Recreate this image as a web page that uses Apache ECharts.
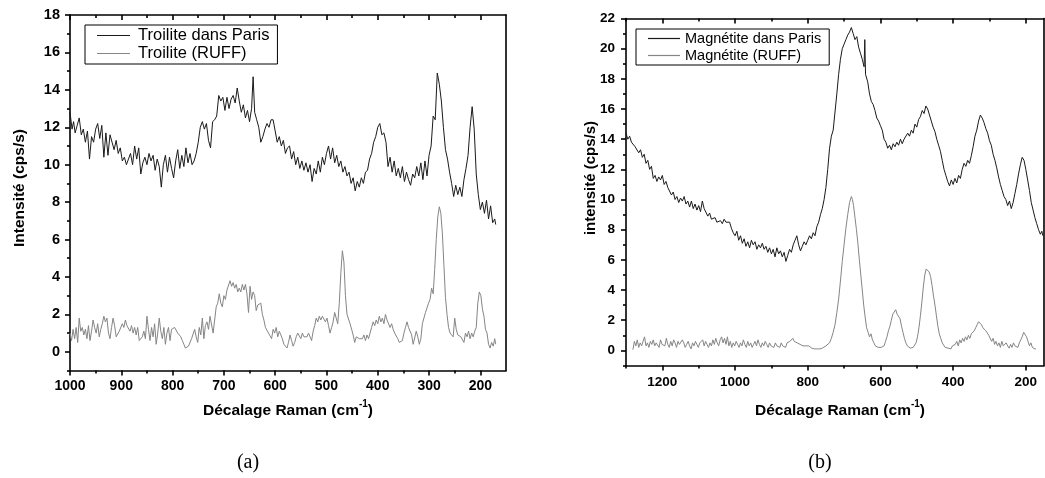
<!DOCTYPE html>
<html>
<head>
<meta charset="utf-8">
<script src="https://cdn.jsdelivr.net/npm/echarts@6/dist/echarts.min.js"></script>
<style>
html,body{margin:0;padding:0;background:#fff;}
#chart{width:1045px;height:478px;}
</style>
</head>
<body>
<div id="chart"></div>
<script>
// ---------- Panel (a): Troilite ----------
const seriesNamesA = ['Troilite dans Paris', 'Troilite (RUFF)'];
const xTroiliteParis = [1000,996,993,990,986,982,978,974,970,966,962,958,954,950,946,942,938,934,930,926,922,918,914,910,906,902,898,894,890,886,882,878,874,870,866,862,858,854,850,846,842,838,834,830,826,822,818,814,810,806,802,798,794,790,786,782,778,774,770,766,762,758,754,750,746,742,738,734,730,726,722,718,714,710,706,702,698,694,690,686,682,678,674,670,666,662,658,654,650,646,643,640,636,632,628,624,620,616,612,608,604,600,596,592,588,584,580,576,572,568,564,560,556,552,548,544,540,536,532,528,524,520,516,512,508,504,500,496,492,488,484,480,476,472,468,464,460,456,452,448,444,440,436,432,428,424,420,416,412,408,404,400,396,392,388,384,380,376,372,368,364,360,356,352,348,344,340,336,332,328,324,320,316,312,308,304,300,296,292,288,284,280,276,272,268,264,260,256,252,248,244,240,236,232,228,224,220,216,212,208,204,200,196,192,188,184,180,176,172,170];
const yTroiliteParis = [12.8,11.9,12.3,11.7,12.1,12.5,11.6,11.9,11.2,11.8,10.3,11.5,11.2,11.9,12.2,11.4,12.1,10.4,11.7,10.5,11.6,11.2,10.8,11.3,10.6,10.9,10.2,10.4,10.0,10.3,10.6,10.0,11.0,10.3,10.9,9.5,10.1,10.4,10.0,10.6,10.2,10.5,9.7,10.3,9.9,8.8,10.0,10.5,9.6,10.4,9.8,9.3,10.2,10.8,9.8,10.5,9.9,10.9,10.1,10.6,10.0,10.2,10.6,11.2,12.0,12.3,11.9,12.2,11.3,10.9,12.3,12.4,12.6,13.7,13.4,13.6,12.9,13.6,13.0,13.5,13.7,13.3,14.1,13.4,12.8,13.2,12.5,12.9,12.3,13.0,14.7,12.8,12.4,12.0,11.2,11.5,11.9,12.2,12.0,12.4,12.4,11.8,11.2,11.5,11.0,11.3,10.6,10.9,11.0,10.3,10.7,10.0,10.4,9.8,10.2,9.7,10.1,9.6,10.0,9.1,9.8,9.5,10.2,9.6,10.4,10.0,10.6,11.0,10.3,10.9,10.1,10.5,9.9,10.2,9.6,9.9,9.4,9.6,9.0,9.3,8.6,9.1,8.8,9.3,9.0,9.6,9.7,10.3,10.6,11.2,11.5,12.0,12.2,11.6,11.7,11.2,9.9,10.4,9.6,10.2,9.4,9.8,9.3,9.9,9.1,9.6,9.2,8.9,9.5,9.3,9.9,9.4,10.1,9.2,10.2,9.4,10.5,11.0,12.6,12.4,14.9,14.3,13.4,12.0,10.8,10.3,9.6,9.0,8.3,8.9,8.4,8.8,8.3,9.2,9.8,10.5,12.0,13.1,11.9,9.5,8.4,7.6,8.0,7.4,8.1,7.1,7.8,6.9,7.1,6.8];
const xTroiliteRuff = [1000,997,994,991,988,985,982,979,976,973,970,967,964,961,958,955,952,949,946,943,940,937,934,931,928,925,922,919,916,913,910,907,904,901,898,895,892,889,886,883,880,877,874,871,868,865,862,859,856,853,850,847,844,841,838,835,832,829,826,823,820,817,814,811,808,805,802,799,796,793,790,787,784,781,778,775,772,769,766,763,760,757,754,751,748,745,742,739,736,733,730,727,724,721,718,715,712,709,706,703,700,697,694,691,688,685,682,679,676,673,670,667,664,661,658,655,652,649,646,643,640,637,634,631,628,625,622,619,616,613,610,607,604,601,598,595,592,589,586,583,580,577,574,571,568,565,562,559,556,553,550,547,544,541,538,535,532,529,526,523,520,517,514,511,508,505,502,499,496,493,490,487,484,481,478,475,472,469,466,463,460,457,454,451,448,445,442,439,436,433,430,427,424,421,418,415,412,409,406,403,400,397,394,391,388,385,382,379,376,373,370,367,364,361,358,355,352,349,346,343,340,337,334,331,328,325,322,319,316,313,310,307,304,301,298,295,292,289,286,283,280,277,274,271,268,265,262,259,256,253,250,247,244,241,238,235,232,229,226,223,220,217,214,211,208,205,202,199,196,193,190,187,184,181,178,175,172,170];
const yTroiliteRuff = [1.0,0.6,1.2,0.7,1.3,0.5,1.8,1.1,1.3,0.9,1.2,0.7,1.4,0.6,1.1,1.7,1.3,1.0,1.5,0.8,1.2,1.5,1.9,1.6,1.8,1.0,0.7,1.3,1.8,1.4,0.8,0.9,1.1,1.0,1.5,1.3,1.7,1.4,1.3,1.1,1.4,1.0,1.3,0.9,1.3,0.6,0.5,0.8,1.1,0.7,1.9,1.2,0.6,1.3,0.8,1.5,0.4,1.0,1.8,1.1,0.7,1.3,0.4,1.0,1.3,0.6,1.2,1.1,1.3,1.2,1.0,1.1,0.8,0.6,0.4,0.2,0.2,0.3,0.2,0.7,0.6,1.2,0.8,0.5,1.3,0.9,1.8,0.7,1.4,1.6,1.2,1.9,2.0,1.0,1.7,2.4,2.6,3.1,2.6,2.4,3.0,2.8,3.3,3.2,3.8,3.5,3.7,3.4,3.6,3.2,3.4,3.2,3.6,3.3,3.6,3.1,2.1,3.5,2.8,3.2,3.0,2.2,2.5,2.4,2.6,2.0,1.7,1.3,1.4,1.0,0.9,0.7,1.2,1.0,1.3,0.8,1.1,0.9,0.7,0.4,0.3,0.2,0.5,0.9,0.6,0.3,0.5,0.8,1.0,0.9,0.7,1.0,0.8,0.9,0.8,1.0,0.9,0.6,1.1,1.4,1.8,1.6,1.9,1.7,1.9,1.8,1.6,1.8,1.4,1.0,1.3,1.6,2.1,1.8,1.5,2.6,4.2,5.4,4.8,3.0,2.0,2.1,1.5,1.6,0.9,0.5,0.8,0.9,0.7,0.8,0.7,0.9,0.6,0.9,0.7,0.8,1.3,1.6,1.4,1.7,1.5,1.9,1.6,1.8,1.5,2.0,1.7,1.6,1.3,1.5,1.2,1.0,0.9,0.7,0.5,0.4,0.6,1.0,1.3,1.6,1.3,1.2,0.9,0.4,0.5,1.1,0.8,0.4,0.7,1.5,1.4,2.1,2.0,2.6,2.8,3.4,3.1,4.4,6.0,7.2,7.75,7.4,6.3,4.6,2.9,2.0,1.3,1.0,1.1,0.8,1.8,1.2,0.9,1.0,0.8,0.9,0.5,1.0,0.8,1.1,0.7,1.0,0.8,1.1,1.3,2.6,3.2,3.0,2.3,1.9,1.2,1.0,0.4,0.2,0.5,0.3,0.7,0.4];
const xTicksA = [1000,900,800,700,600,500,400,300,200];
const xMinorA = [950,850,750,650,550,450,350,250];
const yTicksA = [0,2,4,6,8,10,12,14,16,18];
const yMinorA = [-1,1,3,5,7,9,11,13,15,17];

// ---------- Panel (b): Magnétite ----------
const seriesNamesB = ['Magnétite dans Paris', 'Magnétite (RUFF)'];
const xMagnetiteParis = [1300,1295,1290,1285,1280,1275,1270,1265,1260,1255,1250,1245,1240,1235,1230,1225,1220,1215,1210,1205,1200,1195,1190,1185,1180,1175,1170,1165,1160,1155,1150,1145,1140,1135,1130,1125,1120,1115,1110,1105,1100,1095,1090,1085,1080,1075,1070,1065,1060,1055,1050,1045,1040,1035,1030,1025,1020,1015,1010,1005,1000,995,990,985,980,975,970,965,960,955,950,945,940,935,930,925,920,915,910,905,900,895,890,885,880,875,870,865,860,855,850,845,840,835,830,825,820,815,810,805,800,795,790,785,780,775,770,765,760,755,750,745,740,735,730,725,720,715,710,705,700,695,690,685,680,675,670,665,660,655,650,645,643,641,635,630,625,620,615,610,605,600,595,590,585,580,575,570,565,560,555,550,545,540,535,530,525,520,515,510,505,500,495,490,485,480,475,470,465,460,455,450,445,440,435,430,425,420,415,410,405,400,395,390,385,380,375,370,365,360,355,350,345,340,335,330,325,320,315,310,305,300,295,290,285,280,275,270,265,260,255,250,245,240,235,230,225,220,215,210,205,200,195,190,185,180,175,170,165,160,156,153];
const yMagnetiteParis = [14.4,14.0,14.2,13.8,13.9,13.5,13.6,13.1,13.3,12.8,13.0,12.4,12.6,12.0,12.2,11.4,11.6,11.2,11.5,11.3,11.6,11.0,11.2,10.8,10.9,10.3,10.5,10.0,10.2,9.8,10.1,9.9,10.2,9.7,9.9,9.5,9.9,9.4,9.7,9.3,9.6,9.2,9.9,9.4,9.3,8.9,9.1,8.7,8.6,8.8,8.5,8.4,8.6,8.4,8.7,8.5,8.4,8.5,8.1,7.8,7.6,7.9,7.3,7.6,7.1,7.4,6.9,7.2,6.8,7.3,7.0,7.2,6.7,7.0,6.8,7.1,6.7,6.9,6.5,6.8,6.4,6.7,6.2,6.8,6.4,6.6,6.2,6.5,5.9,6.3,6.7,6.5,7.0,7.3,7.6,7.0,6.6,6.9,7.2,7.0,7.3,7.6,7.4,7.8,7.6,8.2,8.5,9.0,9.4,10.0,10.8,12.0,13.4,14.2,14.6,15.8,17.0,18.3,19.3,20.0,20.3,20.6,20.9,21.1,21.4,21.0,20.6,20.8,20.1,19.7,19.3,18.8,20.6,18.3,17.8,17.0,16.5,16.3,15.9,15.4,15.2,14.9,14.6,14.0,13.8,13.4,13.6,13.3,13.7,13.5,13.8,13.6,14.0,13.7,14.0,13.9,14.4,14.2,14.6,14.4,15.0,14.8,15.3,15.5,15.9,15.7,16.2,16.0,15.6,15.2,14.8,14.5,14.0,13.6,13.2,12.6,12.0,11.6,11.2,10.9,11.3,11.0,11.4,11.1,11.6,11.4,12.0,12.4,12.2,12.6,12.4,12.9,13.5,14.2,14.6,15.2,15.6,15.4,15.1,14.7,14.4,13.9,13.6,13.0,12.6,12.1,11.5,11.0,10.6,10.2,10.0,9.6,9.9,9.4,9.8,10.4,11.0,11.7,12.3,12.8,12.6,12.0,11.3,10.6,9.8,9.3,8.8,8.4,8.0,7.7,7.9,7.6];
const xMagnetiteRuff = [1281,1277,1273,1269,1265,1261,1257,1253,1249,1245,1241,1237,1233,1229,1225,1221,1217,1213,1209,1205,1201,1197,1193,1189,1185,1181,1177,1173,1169,1165,1161,1157,1153,1149,1145,1141,1137,1133,1129,1125,1121,1117,1113,1109,1105,1101,1097,1093,1089,1085,1081,1077,1073,1069,1065,1061,1057,1053,1049,1045,1041,1037,1033,1029,1025,1021,1017,1013,1009,1005,1001,997,993,989,985,981,977,973,969,965,961,957,953,949,945,941,937,933,929,925,921,917,913,909,905,901,897,893,889,885,881,877,873,869,865,861,857,853,849,845,841,837,833,829,825,821,817,813,809,805,801,797,793,789,785,781,777,773,769,766,760,755,750,745,740,735,730,725,720,715,710,705,700,695,690,685,680,677,674,670,666,662,658,654,650,646,642,638,634,630,626,622,618,614,610,606,602,598,594,590,586,582,578,574,570,566,562,558,554,550,546,542,538,534,530,526,522,518,514,510,506,502,498,494,490,486,482,478,474,470,466,462,458,454,450,446,442,438,434,430,426,422,418,414,410,406,402,398,394,390,386,382,378,374,370,366,362,358,354,350,346,342,338,334,330,326,322,318,314,310,306,302,298,294,290,286,282,278,274,270,266,262,258,254,250,246,242,238,234,230,226,222,218,214,210,206,202,198,194,190,186,182,178,175,172];
const yMagnetiteRuff = [0.05,0.6,0.3,0.7,0.2,0.5,0.3,0.4,0.9,0.3,0.5,0.2,0.6,0.4,0.7,0.3,0.5,0.6,0.2,0.7,0.4,0.5,0.3,0.8,0.4,0.2,0.6,0.3,0.7,0.5,0.2,0.6,0.4,0.3,0.7,0.5,0.2,0.4,0.6,0.3,0.1,0.5,0.3,0.6,0.4,0.2,0.5,0.4,0.7,0.3,0.6,0.4,0.2,0.5,0.3,0.7,0.4,0.8,0.5,0.3,0.7,0.9,0.5,0.8,0.4,0.9,0.3,0.6,0.2,0.5,0.3,0.6,0.4,0.2,0.5,0.3,0.7,0.4,0.2,0.6,0.3,0.5,0.2,0.4,0.6,0.3,0.7,0.4,0.2,0.5,0.3,0.6,0.4,0.2,0.5,0.3,0.4,0.2,0.5,0.3,0.4,0.2,0.5,0.3,0.4,0.2,0.5,0.4,0.6,0.5,0.8,0.6,0.7,0.5,0.6,0.4,0.5,0.3,0.4,0.3,0.2,0.3,0.2,0.15,0.2,0.1,0.15,0.1,0.1,0.1,0.15,0.2,0.3,0.4,0.5,0.8,1.2,1.7,2.5,3.4,4.6,5.9,7.0,8.1,9.0,9.8,10.2,10.0,9.6,8.8,8.0,7.1,6.0,5.0,4.0,3.0,2.2,1.5,1.2,0.9,1.1,0.7,0.5,0.3,0.2,0.2,0.1,0.2,0.15,0.3,0.6,0.9,1.3,1.6,2.0,2.4,2.5,2.7,2.4,2.5,2.1,1.6,1.2,0.8,0.5,0.3,0.2,0.15,0.1,0.2,0.3,0.5,0.9,1.5,2.3,3.2,4.2,5.0,5.4,5.5,5.2,4.9,4.3,3.6,3.0,2.3,1.6,1.1,0.8,0.5,0.4,0.2,0.1,0.15,0.2,0.1,0.3,0.2,0.4,0.6,0.3,0.7,0.5,0.8,0.6,0.9,0.7,1.0,0.8,1.1,1.0,1.3,1.5,1.7,1.9,1.8,1.7,1.5,1.6,1.3,1.2,1.0,0.9,0.6,0.8,0.4,0.6,0.3,0.5,0.2,0.6,0.3,0.2,0.5,0.3,0.15,0.4,0.2,0.5,0.3,0.4,0.2,0.5,0.7,0.9,1.2,1.1,0.9,0.6,0.3,0.5,0.2,0.3,0.1,0.1];
const xTicksB = [1200,1000,800,600,400,200];
const xMinorB = [1300,1100,900,700,500,300];
const yTicksB = [0,2,4,6,8,10,12,14,16,18,20,22];
const yMinorB = [-1,1,3,5,7,9,11,13,15,17,19,21];

// ---------- helpers ----------
const FONT = "'Liberation Sans', Arial, sans-serif";
const pairs = (xs, ys) => xs.map((x, i) => [x, ys[i]]);
const AX = {color: '#000', width: 1.6};
const plain = v => String(v);

function xAxesFor(g, min, max, ticks, minor, fs, margin) {
  const base = {gridIndex: g, type: 'value', min: min, max: max, inverse: true,
    splitLine: {show: false}, axisPointer: {show: false}};
  return [
    Object.assign({}, base, {position: 'bottom',
      axisLine: {show: true, onZero: false, lineStyle: AX},
      axisTick: {show: true, customValues: ticks, length: 5, inside: false, lineStyle: AX},
      axisLabel: {show: true, customValues: ticks, formatter: plain, margin: margin, fontSize: fs, fontWeight: 'bold', fontFamily: FONT, color: '#000'}}),
    Object.assign({}, base, {position: 'bottom',
      axisLine: {show: false, onZero: false},
      axisTick: {show: true, customValues: minor, length: 3, inside: false, lineStyle: AX},
      axisLabel: {show: false}}),
    Object.assign({}, base, {position: 'top',
      axisLine: {show: true, onZero: false, lineStyle: AX},
      axisTick: {show: true, customValues: ticks, length: 5, inside: true, lineStyle: AX},
      axisLabel: {show: false}}),
    Object.assign({}, base, {position: 'top',
      axisLine: {show: false, onZero: false},
      axisTick: {show: true, customValues: minor, length: 3, inside: true, lineStyle: AX},
      axisLabel: {show: false}})
  ];
}
function yAxesFor(g, min, max, ticks, minor, fs, margin) {
  const base = {gridIndex: g, type: 'value', min: min, max: max,
    splitLine: {show: false}, axisPointer: {show: false}};
  return [
    Object.assign({}, base, {position: 'left',
      axisLine: {show: true, onZero: false, lineStyle: AX},
      axisTick: {show: true, customValues: ticks, length: 5, inside: false, lineStyle: AX},
      axisLabel: {show: true, customValues: ticks, formatter: plain, margin: margin, fontSize: fs, fontWeight: 'bold', fontFamily: FONT, color: '#000'}}),
    Object.assign({}, base, {position: 'left',
      axisLine: {show: false, onZero: false},
      axisTick: {show: true, customValues: minor, length: 3, inside: false, lineStyle: AX},
      axisLabel: {show: false}}),
    Object.assign({}, base, {position: 'right',
      axisLine: {show: true, onZero: false, lineStyle: AX},
      axisTick: {show: false}, axisLabel: {show: false}})
  ];
}
function legendFor(names, left, top, fs, gap, textPad, lineW) {
  return {data: names, left: left, top: top, orient: 'vertical', selectedMode: false,
    borderColor: '#000', borderWidth: 1, borderRadius: 0, padding: [2, 8, 2, 12],
    icon: 'rect', itemWidth: lineW, itemHeight: 1.2, itemGap: gap,
    textStyle: {fontSize: fs, fontFamily: FONT, color: '#000', padding: [0, 0, 0, textPad]}};
}
function line(name, data, xi, yi, color) {
  return {name: name, type: 'line', data: data, xAxisIndex: xi, yAxisIndex: yi,
    showSymbol: false, symbol: 'none', animation: false,
    lineStyle: {color: color, width: 1}, itemStyle: {color: color}};
}
const BLACK = '#1a1a1a', GRAY = '#858585';
const titleRich = {
  m: {fontSize: 15.5, fontWeight: 'bold', fontFamily: FONT, fill: '#000', lineHeight: 19, verticalAlign: 'bottom'},
  s: {fontSize: 10, fontWeight: 'bold', fontFamily: FONT, fill: '#000', lineHeight: 11, verticalAlign: 'top'}
};

const chart = echarts.init(document.getElementById('chart'), null, {renderer: 'canvas'});
chart.setOption({
  animation: false,
  backgroundColor: '#fff',
  grid: [
    {left: 70, top: 15, width: 436, height: 355.5},
    {left: 626, top: 18.5, width: 418, height: 347}
  ],
  xAxis: [].concat(xAxesFor(0, 150, 1000, xTicksA, xMinorA, 14, 9), xAxesFor(1, 150, 1300, xTicksB, xMinorB, 13.5, 10)),
  yAxis: [].concat(yAxesFor(0, -1, 18, yTicksA, yMinorA, 14.5, 10), yAxesFor(1, -1, 22, yTicksB, yMinorB, 13.5, 11)),
  legend: [legendFor(seriesNamesA, 85, 25, 16.5, 1, 3, 33), legendFor(seriesNamesB, 636, 29, 14.5, 2, 0, 32)],
  series: [
    line(seriesNamesA[0], pairs(xTroiliteParis, yTroiliteParis), 0, 0, BLACK),
    line(seriesNamesA[1], pairs(xTroiliteRuff, yTroiliteRuff), 0, 0, GRAY),
    line(seriesNamesB[0], pairs(xMagnetiteParis, yMagnetiteParis), 4, 3, BLACK),
    line(seriesNamesB[1], pairs(xMagnetiteRuff, yMagnetiteRuff), 4, 3, GRAY)
  ],
  graphic: [
    {type: 'text', x: 20, y: 188, rotation: Math.PI / 2,
      style: {text: 'Intensité (cps/s)', font: "bold 15.5px " + FONT, fill: '#000', align: 'center', verticalAlign: 'middle'}},
    {type: 'text', x: 591, y: 178, rotation: Math.PI / 2,
      style: {text: 'intensité (cps/s)', font: "bold 15px " + FONT, fill: '#000', align: 'center', verticalAlign: 'middle'}},
    {type: 'text', x: 288, y: 409,
      style: {text: '{m|Décalage Raman (cm}{s|-1}{m|)}', align: 'center', verticalAlign: 'middle', rich: titleRich}},
    {type: 'text', x: 840, y: 409,
      style: {text: '{m|Décalage Raman (cm}{s|-1}{m|)}', align: 'center', verticalAlign: 'middle', rich: titleRich}},
    {type: 'text', x: 248, y: 463,
      style: {text: '(a)', font: "20px 'Liberation Serif', serif", fill: '#000', align: 'center', verticalAlign: 'middle'}},
    {type: 'text', x: 820, y: 463,
      style: {text: '(b)', font: "20px 'Liberation Serif', serif", fill: '#000', align: 'center', verticalAlign: 'middle'}}
  ]
});
</script>
</body>
</html>
